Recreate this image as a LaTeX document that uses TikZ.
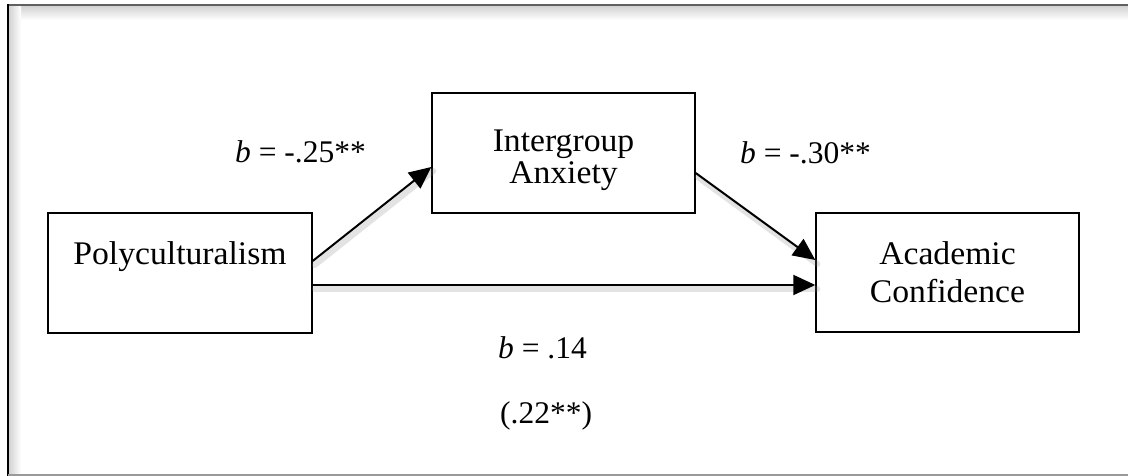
\documentclass[tikz,border=0pt]{standalone}
\usepackage{fontspec}
\setmainfont{Liberation Serif}
\newfontfamily\boxfont[FakeStretch=1.02]{Liberation Serif}
\usetikzlibrary{arrows.meta}
\begin{document}
\begin{tikzpicture}[x=1pt,y=-1pt,
  box/.style={draw=black, line width=1.4pt, inner sep=0pt},
  boxtext/.style={inner sep=0pt, anchor=base, font=\boxfont\fontsize{33}{38}\selectfont},
  lab/.style={inner sep=0pt, anchor=base west, font=\fontsize{31.5}{36}\selectfont},
  arr/.style={line width=2pt, -{Triangle[length=22pt,width=20pt]}},
  shadowline/.style={line width=6pt, draw=gray, opacity=0.22, line cap=round}]
\useasboundingbox (0,0) rectangle (1128,476);
\fill[white] (0,0) rectangle (1128,476);
% frame with inner shadow
\shade[top color=gray!35, bottom color=white] (9,6) rectangle (1128,20);
\shade[left color=gray!35, right color=white] (9,6) rectangle (21,476);
\draw[gray!75!black, line width=1.8pt] (8,5) -- (1128,5);
\draw[black, line width=2pt] (8,476) -- (8,4.1);
\draw[gray!80, line width=1.5pt] (8,475) -- (1128,475);
% boxes
\node[box, minimum width=264pt, minimum height=120pt] (poly) at (180,273) {};
\node[box, minimum width=263pt, minimum height=120pt] (int) at (563.5,153) {};
\node[box, minimum width=263pt, minimum height=119pt] (acad) at (947.5,272.5) {};
% box texts
\node[boxtext] (polyt) at (180,264) {Polyculturalism};
\node[boxtext] (intt1) at (563.5,152) {Intergroup};
\node[boxtext] (intt2) at (563.5,183) {Anxiety};
\node[boxtext] (acadt1) at (947.5,264) {Academic};
\node[boxtext] (acadt2) at (947.5,302) {Confidence};
% arrow shadows
\begin{scope}[transform canvas={shift={(2pt,-4pt)}}]
\draw[shadowline] ([yshift=12pt]poly.east) -- ([yshift=-14pt]int.west);
\draw[shadowline] ([yshift=-20pt]int.east) -- ([yshift=12.5pt]acad.west);
\draw[shadowline] ([yshift=-12pt]poly.east) -- ([yshift=-12.5pt]acad.west);
\end{scope}
% arrows
\draw[arr] ([yshift=12pt]poly.east) -- ([yshift=-14pt]int.west);
\draw[arr] ([yshift=-20pt]int.east) -- ([yshift=12.5pt]acad.west);
\draw[arr] ([yshift=-12pt]poly.east) -- ([yshift=-12.5pt]acad.west);
% labels
\node[lab] (l1) at (235,163) {\textit{b} = -.25**};
\node[lab] (l2) at (740,164) {\textit{b} = -.30**};
\node[lab] (l3) at (498,358) {\textit{b} = .14};
\node[lab] (l4) at (500,423) {(.22**)};
\end{tikzpicture}
\end{document}
